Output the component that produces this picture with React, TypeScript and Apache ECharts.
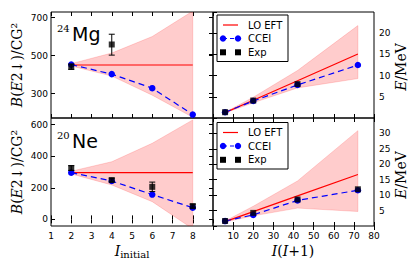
import React, { useEffect, useRef } from "react";
import * as echarts from "echarts";

// ---------- data ----------
const xB = [2, 4, 6, 8];
const mgLO = [451, 451, 451, 451];
const mgBandLow = [446, 393, 292, 176];
const mgBandHigh = [458, 514, 601, 735];
const mgCCEI = [453, 403, 329, 190];
const mgExpX = [2, 4];
const mgExp = [442, 559];
const mgExpLow = [428, 503];
const mgExpHigh = [456, 613];

const neLO = [296, 296, 296, 296];
const neBandLow = [288, 218, 112, -60];
const neBandHigh = [305, 365, 482, 630];
const neCCEI = [296, 243, 157, 74];
const neExpX = [2, 4, 6, 8];
const neExp = [325, 249, 206, 84];
const neExpLow = [310, 238, 176, 72];
const neExpHigh = [340, 260, 236, 96];

const xE = [6, 20, 42, 72];
const mgELO = [1.26, 4.2, 8.8, 15.1];
const mgEBandLow = [1.2, 3.6, 7.1, 9.3];
const mgEBandHigh = [1.35, 4.9, 11.2, 21.8];
const mgECCEI = [1.37, 4.0, 7.8, 12.5];
const mgEExpX = [6, 20, 42];
const mgEExp = [1.37, 4.12, 8.0];

const neELO = [1.4, 4.65, 9.75, 16.7];
const neEBandLow = [1.3, 3.3, 5.8, 4.7];
const neEBandHigh = [1.6, 6.4, 14.6, 30.9];
const neECCEI = [1.6, 3.6, 8.3, 11.6];
const neEExpX = [6, 20, 42, 72];
const neEExp = [1.63, 4.25, 8.6, 11.9];

const mgBTicks = [300, 500, 700];
const neBTicks = [0, 200, 400, 600];
const legendNames = ["LO EFT", "CCEI", "Exp"];

// ---------- helpers ----------
const RED = "#ff0000";
const BLUE = "#0000ff";
const BAND = "rgba(255,0,0,0.2)";
const TICKFONT = { fontFamily: "DejaVu Sans", fontSize: 9, color: "#000" };

function zip(xs: number[], ys: number[]) {
  return xs.map((x, i) => [x, ys[i]]);
}

function panelSeries(
  idx: number,
  xs: number[],
  lo: number[],
  bLow: number[],
  bHigh: number[],
  cc: number[],
  exX: number[],
  ex: number[],
  exLo: number[] | null,
  exHi: number[] | null
) {
  const common = { xAxisIndex: idx, yAxisIndex: idx };
  const s: any[] = [
    {
      ...common,
      type: "custom",
      data: xs.map((x, i) => [x, bLow[i], bHigh[i]]),
      encode: { x: 0, y: [1, 2] },
      renderItem: (params: any, api: any) => {
        if (params.dataIndex !== 0) return null;
        const upper = xs.map((x, i) => api.coord([x, bHigh[i]]));
        const lower = xs.map((x, i) => api.coord([x, bLow[i]])).reverse();
        const cs = params.coordSys;
        return {
          type: "group",
          clipPath: { type: "rect", shape: { x: cs.x, y: cs.y, width: cs.width, height: cs.height } },
          children: [
            {
              type: "polygon",
              shape: { points: upper.concat(lower) },
              style: { fill: BAND, stroke: BAND, lineWidth: 0.8 },
            },
          ],
        };
      },
      z: 1,
    },
    {
      ...common,
      type: "line",
      data: zip(xs, lo),
      symbol: "none",
      lineStyle: { color: RED, width: 1.2 },
      z: 2,
    },
    {
      ...common,
      type: "line",
      data: zip(xs, cc),
      symbol: "circle",
      symbolSize: 6.5,
      itemStyle: { color: BLUE },
      lineStyle: { color: BLUE, width: 1.2, type: [6, 4] },
      z: 3,
    },
  ];
  if (exLo && exHi) {
    s.push({
      ...common,
      type: "custom",
      data: exX.map((x, i) => [x, exLo[i], exHi[i]]),
      encode: { x: 0, y: [1, 2] },
      renderItem: (params: any, api: any) => {
        const x = api.value(0);
        const p1 = api.coord([x, api.value(1)]);
        const p2 = api.coord([x, api.value(2)]);
        const st2 = { stroke: "#000", lineWidth: 1 };
        return {
          type: "group",
          children: [
            { type: "line", shape: { x1: p1[0], y1: p1[1], x2: p2[0], y2: p2[1] }, style: st2 },
            { type: "line", shape: { x1: p1[0] - 3, y1: p1[1], x2: p1[0] + 3, y2: p1[1] }, style: st2 },
            { type: "line", shape: { x1: p2[0] - 3, y1: p2[1], x2: p2[0] + 3, y2: p2[1] }, style: st2 },
          ],
        };
      },
      z: 4,
    });
  }
  s.push({
    ...common,
    type: "scatter",
    data: zip(exX, ex),
    symbol: "rect",
    symbolSize: 6,
    itemStyle: { color: "#000" },
    z: 5,
  });
  return s;
}

function legendGraphic(left: number, top: number) {
  const rows = [top + 10, top + 23.5, top + 37.3];
  const xa = left + 6;
  const xb = left + 21;
  const tx = left + 31;
  const els: any[] = [
    {
      type: "rect",
      shape: { x: left, y: top, width: 71, height: 46.5 },
      style: { fill: "#fff", stroke: "#000", lineWidth: 1 },
    },
    { type: "line", shape: { x1: xa, y1: rows[0], x2: xb, y2: rows[0] }, style: { stroke: RED, lineWidth: 1.2 } },
    {
      type: "line",
      shape: { x1: xa, y1: rows[1], x2: xb, y2: rows[1] },
      style: { stroke: BLUE, lineWidth: 1.2, lineDash: [4, 3] },
    },
    { type: "circle", shape: { cx: xa, cy: rows[1], r: 3.2 }, style: { fill: BLUE } },
    { type: "circle", shape: { cx: xb, cy: rows[1], r: 3.2 }, style: { fill: BLUE } },
    { type: "rect", shape: { x: xa - 3, y: rows[2] - 3, width: 6, height: 6 }, style: { fill: "#000" } },
    { type: "rect", shape: { x: xb - 3, y: rows[2] - 3, width: 6, height: 6 }, style: { fill: "#000" } },
  ];
  legendNames.forEach((n, i) => {
    els.push({
      type: "text",
      x: tx,
      y: rows[i],
      style: {
        text: n,
        fontFamily: "DejaVu Sans",
        fontSize: 10,
        fill: "#000",
        align: "left",
        verticalAlign: "middle",
      },
    });
  });
  return { type: "group", z: 100, children: els };
}

const serifRich = {
  i: { fontFamily: "DejaVu Serif", fontStyle: "italic", fontSize: 14, fill: "#000" },
  r: { fontFamily: "DejaVu Serif", fontSize: 14, fill: "#000" },
  sub: { fontFamily: "DejaVu Serif", fontSize: 10, fill: "#000", padding: [6, 0, 0, 0] },
};

function rotLabel(x: number, y: number, text: string) {
  return {
    type: "text",
    x,
    y,
    rotation: Math.PI / 2,
    style: { text, rich: serifRich, align: "center", verticalAlign: "middle" },
  };
}

export default function App() {
  const ref = useRef<HTMLDivElement>(null);
  useEffect(() => {
    if (!ref.current) return;
    const chart = echarts.init(ref.current, null, { renderer: "svg" });
    const grids = [
      { left: 51, top: 12, width: 162, height: 106 },
      { left: 213, top: 12, width: 161, height: 106 },
      { left: 51, top: 118, width: 162, height: 108 },
      { left: 213, top: 118, width: 161, height: 108 },
    ].map((g) => ({ ...g, show: true, borderColor: "#000", borderWidth: 1, backgroundColor: "transparent", containLabel: false }));

    const tick = { show: true, inside: true, length: 4, lineStyle: { color: "#000", width: 1 } };
    const noLine = { show: false };
    const noSplit = { show: false };

    const xAxisBase = (gi: number, left: boolean, pos: string, labels: any) => ({
      type: "value",
      gridIndex: gi,
      position: pos,
      min: left ? 1 : 0,
      max: left ? 9 : 80,
      interval: left ? 1 : 10,
      axisLine: noLine,
      splitLine: noSplit,
      axisTick: tick,
      axisLabel: labels,
    });
    const hidden = { show: false };

    const xAxis = [
      xAxisBase(0, true, "bottom", hidden),
      xAxisBase(1, false, "bottom", hidden),
      xAxisBase(2, true, "bottom", { ...TICKFONT, margin: 5, showMinLabel: true, showMaxLabel: false }),
      xAxisBase(3, false, "bottom", { ...TICKFONT, margin: 5, showMinLabel: false, showMaxLabel: true }),
      xAxisBase(0, true, "top", hidden),
      xAxisBase(1, false, "top", hidden),
      xAxisBase(2, true, "top", hidden),
      xAxisBase(3, false, "top", hidden),
    ];

    const yCustom = (gi: number, pos: string, min: number, max: number, ticks: number[], showLab: boolean) => ({
      type: "value",
      gridIndex: gi,
      position: pos,
      min,
      max,
      axisLine: noLine,
      splitLine: noSplit,
      axisTick: { ...tick, customValues: ticks },
      axisLabel: showLab ? { ...TICKFONT, margin: 3, customValues: ticks } : hidden,
    });
    const yInt = (gi: number, pos: string, max: number, showLab: boolean) => ({
      type: "value",
      gridIndex: gi,
      position: pos,
      min: 0,
      max,
      interval: 5,
      axisLine: noLine,
      splitLine: noSplit,
      axisTick: tick,
      axisLabel: showLab ? { ...TICKFONT, margin: 5, showMinLabel: false, showMaxLabel: false } : hidden,
    });

    const yAxis = [
      yCustom(0, "left", 172, 730, mgBTicks, true),
      yInt(1, "right", 25, true),
      yCustom(2, "left", -42, 642, neBTicks, true),
      yInt(3, "right", 35, true),
      yCustom(0, "right", 172, 730, mgBTicks, false),
      yInt(1, "left", 25, false),
      yCustom(2, "right", -42, 642, neBTicks, false),
      yInt(3, "left", 35, false),
    ];

    const series = [
      ...panelSeries(0, xB, mgLO, mgBandLow, mgBandHigh, mgCCEI, mgExpX, mgExp, mgExpLow, mgExpHigh),
      ...panelSeries(1, xE, mgELO, mgEBandLow, mgEBandHigh, mgECCEI, mgEExpX, mgEExp, null, null),
      ...panelSeries(2, xB, neLO, neBandLow, neBandHigh, neCCEI, neExpX, neExp, neExpLow, neExpHigh),
      ...panelSeries(3, xE, neELO, neEBandLow, neEBandHigh, neECCEI, neEExpX, neEExp, null, null),
    ];

    const graphic: any[] = [
      legendGraphic(217, 15),
      legendGraphic(217, 122.5),
      {
        type: "text",
        x: 57,
        y: 28,
        style: { text: "24", fontFamily: "DejaVu Serif", fontSize: 10, fill: "#000", align: "left", verticalAlign: "middle" },
      },
      {
        type: "text",
        x: 72,
        y: 34,
        style: { text: "Mg", fontFamily: "DejaVu Sans", fontSize: 19, fill: "#000", align: "left", verticalAlign: "middle" },
      },
      {
        type: "text",
        x: 57,
        y: 135.5,
        style: { text: "20", fontFamily: "DejaVu Serif", fontSize: 10, fill: "#000", align: "left", verticalAlign: "middle" },
      },
      {
        type: "text",
        x: 72,
        y: 141,
        style: { text: "Ne", fontFamily: "DejaVu Sans", fontSize: 19, fill: "#000", align: "left", verticalAlign: "middle" },
      },
      rotLabel(17, 65, "{i|B}{r|(}{i|E}{r|2↓)/CG²}"),
      rotLabel(17, 172, "{i|B}{r|(}{i|E}{r|2↓)/CG²}"),
      rotLabel(401, 67, "{i|E}{r|/MeV}"),
      rotLabel(401, 175, "{i|E}{r|/MeV}"),
      {
        type: "text",
        x: 132,
        y: 251,
        style: { text: "{i|I}{sub|initial}", rich: serifRich, align: "center", verticalAlign: "middle" },
      },
      {
        type: "text",
        x: 293,
        y: 251,
        style: { text: "{i|I}{r|(}{i|I}{r|+1)}", rich: serifRich, align: "center", verticalAlign: "middle" },
      },
    ];

    chart.setOption({
      animation: false,
      backgroundColor: "#fff",
      grid: grids,
      xAxis,
      yAxis,
      series,
      graphic,
    });
    return () => chart.dispose();
  }, []);
  return <div ref={ref} style={{ position: "absolute", left: 0, top: 0, width: 416, height: 267 }} />;
}
